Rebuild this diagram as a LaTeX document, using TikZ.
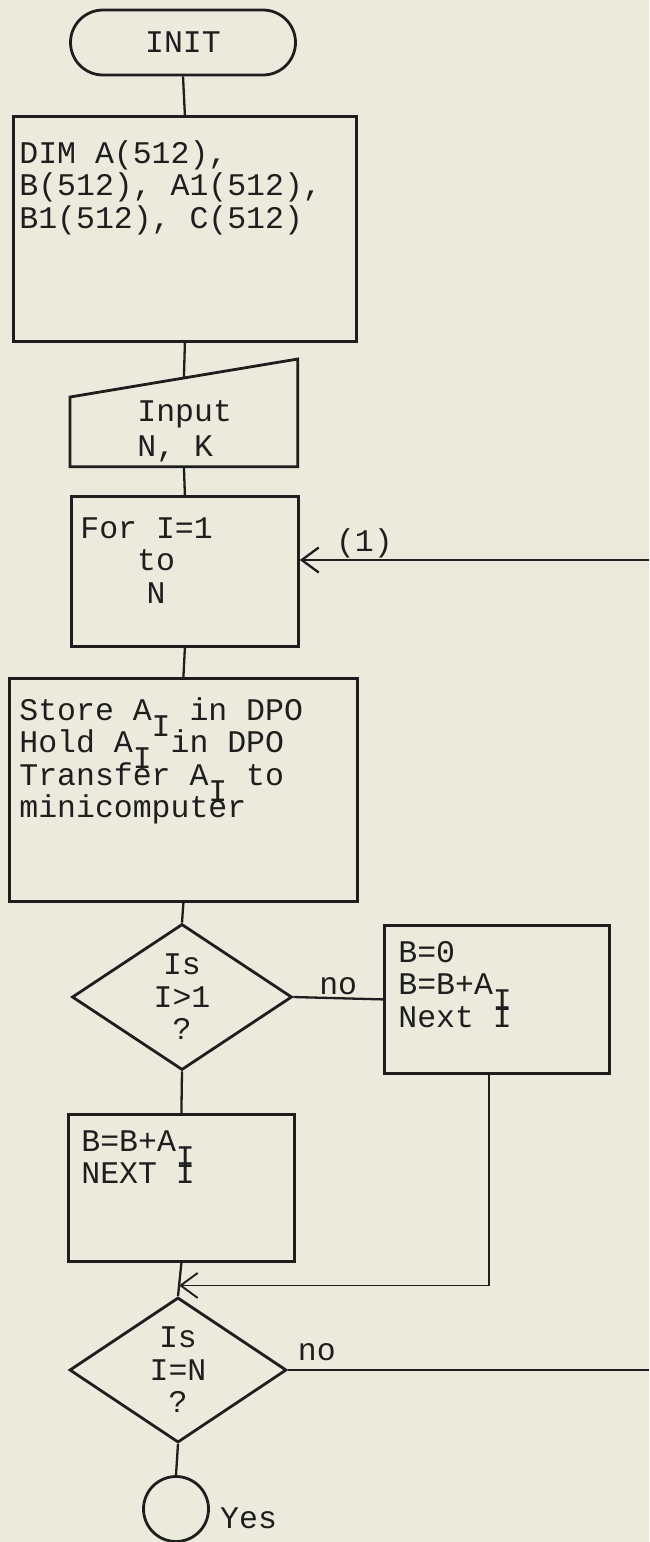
\documentclass[tikz,border=0pt]{standalone}
\usepackage{fontspec}
\usepackage{xcolor}
\usepackage{tikz}
\usetikzlibrary{arrows.meta,calc,shapes.geometric}
\newfontfamily\typer{Liberation Mono}
\definecolor{paper}{HTML}{EBEADC}
\definecolor{ink}{HTML}{1E1E1E}
\newcommand{\subI}{\raisebox{-16pt}[0pt][0pt]{I}}
\newcommand{\typeface}{\typer\fontsize{31.5}{32.5}\selectfont\frenchspacing}

\tikzset{
  every node/.style={font=\typeface, text=ink},
  boxline/.style={draw=ink, line width=2.8pt},
  % one typewriter cell for every space, also in ragged text
  procbox/.style={boxline, rectangle, anchor=north west, inner ysep=0pt, align=left,
    execute at begin node={\spaceskip=0.6em\relax\xspaceskip=0.6em\relax}},
  decision/.style={boxline, diamond, aspect=1.5, inner sep=0pt, align=center},
  flowline/.style={draw=ink, line width=2.3pt},
  barb/.style={-{Straight Barb[length=17pt,width=25pt]}},
  tag/.style={inner sep=0pt},
}

\begin{document}
\begin{tikzpicture}[x=1pt, y=-1pt]
  \path[use as bounding box, fill=paper] (0,0) rectangle (649,1542);

  \node[boxline, rounded corners=32.5pt, minimum width=225pt, minimum height=65pt, inner sep=0pt] (init) at (183,42.5) {INIT};

  \node[procbox, text width=331pt, inner xsep=6pt, text height=47pt, text depth=178pt] (dim) at (12,115)
    {DIM A(512),\\B(512), A1(512),\\B1(512), C(512)};

  % manual input: top edge slopes up to the right
  \node[procbox, draw=none, text width=93pt, inner xsep=66pt, text height=61pt, text depth=44pt] (inp) at (70,359)
    {Input\\[2.5pt]N, K};
  \draw[boxline] ([yshift=-38pt]inp.north west) -- (inp.north east) -- (inp.south east) -- (inp.south west) -- cycle;
  \coordinate (inptop) at ([yshift=-19pt]inp.north);

  \node[procbox, text width=209pt, inner xsep=9pt, text height=42pt, text depth=108pt] (for) at (70,495)
    {For I=1\\\phantom{For}to\\\hspace*{2.1em}N};

  \node[procbox, text width=328pt, inner xsep=10pt, text height=42pt, text depth=181pt] (store) at (8,677)
    {Store A\subI{} in DPO\\Hold A\subI{} in DPO\\Transfer A\subI{} to\\minicomputer};

  \node[decision, minimum width=220pt, minimum height=146pt] (d1) at (182,997) {Is\\I>1\\?};

  \node[procbox, text width=197pt, inner xsep=14pt, text height=37pt, text depth=111pt] (bzero) at (383,924)
    {B=0\\B=B+A\subI\\Next I};

  \node[procbox, text width=200pt, inner xsep=13pt, text height=37pt, text depth=110pt] (bb) at (67,1113)
    {B=B+A\subI\\NEXT I};

  \node[decision, minimum width=217pt, minimum height=145pt] (d2) at (178,1370) {Is\\I=N\\?};

  \node[boxline, circle, minimum size=65pt, inner sep=0pt] (stop) at (176,1509) {};
  \node[anchor=base west, tag] (yes) at (220,1528) {Yes};

  \coordinate (entry) at (649,560);
  \coordinate (exit) at (649,1370);
  \coordinate (join) at ($(bb.south)!0.68!(d2.north)$);

  % main spine
  \draw[flowline] (init.south) -- (dim.north);
  \draw[flowline] (dim.south) -- (inptop);
  \draw[flowline] (inp.south) -- (for.north);
  \draw[flowline] (for.south) -- (store.north);
  \draw[flowline] (store.south) -- (d1.north);
  \draw[flowline] (d1.south) -- (bb.north);
  \draw[flowline] (bb.south) -- (d2.north);
  \draw[flowline] (d2.south) -- (stop.north);

  % branches
  \draw[flowline] (d1.east) -- node[tag, above=2pt] {no} (bzero.west);
  \draw[flowline, line width=1.9pt, barb] ([xshift=-8pt]bzero.south) |- (join);
  \draw[flowline] (d2.east) -- node[tag, pos=0.08, above=8pt] {no} (exit);
  \draw[flowline, barb] (entry) -- node[tag, pos=0.815, above=1pt] {(1)} (for.east |- entry);
\end{tikzpicture}
\end{document}
